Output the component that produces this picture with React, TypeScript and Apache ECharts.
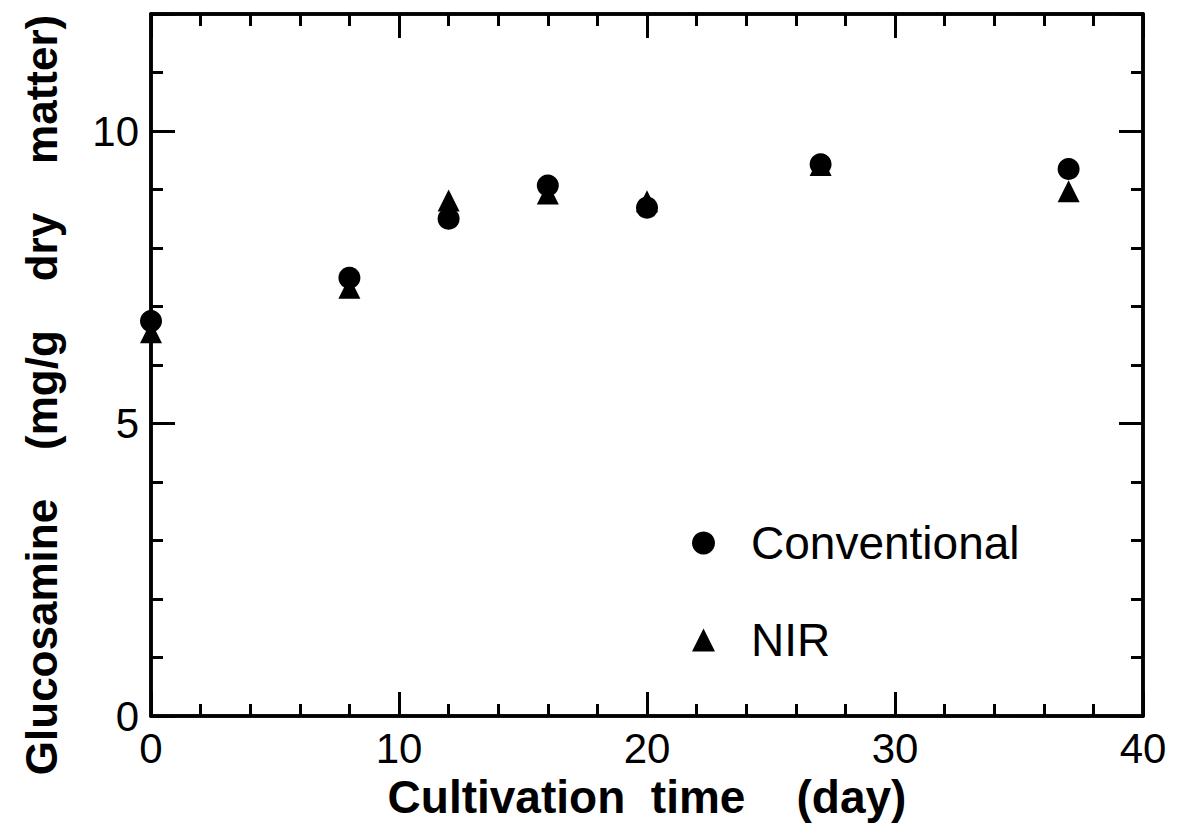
import React, { useEffect, useRef } from "react";
import * as echarts from "echarts";

const days = [0, 8, 12, 16, 20, 27, 37];
const conventional = [6.75, 7.49, 8.5, 9.07, 8.69, 9.43, 9.35];
const nir = [6.56, 7.32, 8.81, 8.93, 8.8, 9.42, 8.97];
const xTickLabels = [0, 10, 20, 30, 40];
const yTickLabels = [0, 5, 10];
const seriesNames = ["Conventional", "NIR"];

const FONT = "'Liberation Sans', Arial, Helvetica, sans-serif";
const BLACK = "#000";

function xAxisDef(position: string, interval: number, len: number, withLabels: boolean) {
  return {
    type: "value",
    position,
    min: 0,
    max: 40,
    interval,
    axisLine: { show: true, onZero: false, lineStyle: { color: BLACK, width: 3.5 } },
    axisTick: { show: true, inside: true, length: len, lineStyle: { color: BLACK, width: 3 } },
    axisLabel: withLabels
      ? {
          show: true,
          color: BLACK,
          fontSize: 42,
          fontFamily: FONT,
          margin: 11,
          formatter: (v: number) => (xTickLabels.includes(v) ? String(v) : ""),
        }
      : { show: false },
    splitLine: { show: false },
    ...(withLabels
      ? {
          name: "Cultivation  time    (day)",
          nameLocation: "middle",
          nameGap: 47,
          nameTextStyle: { color: BLACK, fontSize: 46, fontWeight: "bold", fontFamily: FONT },
        }
      : {}),
  };
}

function yAxisDef(position: string, interval: number, len: number, withLabels: boolean) {
  return {
    type: "value",
    position,
    min: 0,
    max: 12,
    interval,
    axisLine: { show: true, onZero: false, lineStyle: { color: BLACK, width: 3.5 } },
    axisTick: { show: true, inside: true, length: len, lineStyle: { color: BLACK, width: 3 } },
    axisLabel: withLabels
      ? {
          show: true,
          color: BLACK,
          fontSize: 42,
          fontFamily: FONT,
          margin: 12,
          formatter: (v: number) => (yTickLabels.includes(v) ? String(v) : ""),
        }
      : { show: false },
    splitLine: { show: false },
  };
}

export default function App() {
  const ref = useRef<HTMLDivElement>(null);
  useEffect(() => {
    if (!ref.current) return;
    const chart = echarts.init(ref.current, undefined, { renderer: "svg" });
    chart.setOption({
      animation: false,
      backgroundColor: "#fff",
      grid: { left: 151, right: 34, top: 14, bottom: 112, containLabel: false },
      xAxis: [
        xAxisDef("bottom", 10, 24, true),
        xAxisDef("bottom", 2, 12, false),
        xAxisDef("top", 10, 24, false),
        xAxisDef("top", 2, 12, false),
      ],
      yAxis: [
        yAxisDef("left", 5, 24, true),
        yAxisDef("left", 1, 12, false),
        yAxisDef("right", 5, 24, false),
        yAxisDef("right", 1, 12, false),
      ],
      legend: {
        orient: "vertical",
        left: 687,
        top: 515,
        itemWidth: 23,
        itemHeight: 23,
        itemGap: 51,
        data: [
          { name: seriesNames[0], icon: "circle" },
          { name: seriesNames[1], icon: "triangle" },
        ],
        textStyle: {
          color: BLACK,
          fontSize: 46,
          fontFamily: FONT,
          padding: [0, 0, 0, 31],
        },
        selectedMode: false,
      },
      graphic: [
        {
          type: "text",
          x: 41,
          y: 395,
          rotation: Math.PI / 2,
          style: {
            text: "Glucosamine    (mg/g    dry    matter)",
            fontSize: 44,
            fontWeight: "bold",
            fontFamily: FONT,
            fill: BLACK,
            align: "center",
            verticalAlign: "middle",
          },
        },
      ],
      series: [
        {
          name: seriesNames[0],
          type: "scatter",
          xAxisIndex: 0,
          yAxisIndex: 0,
          symbol: "circle",
          symbolSize: 22,
          itemStyle: { color: BLACK, opacity: 1 },
          data: days.map((d, i) => [d, conventional[i]]),
          z: 3,
        },
        {
          name: seriesNames[1],
          type: "scatter",
          xAxisIndex: 0,
          yAxisIndex: 0,
          symbol: "triangle",
          symbolSize: 22,
          itemStyle: { color: BLACK, opacity: 1 },
          data: days.map((d, i) => [d, nir[i]]),
          z: 2,
        },
      ],
    });
    return () => chart.dispose();
  }, []);
  return (
    <div
      ref={ref}
      style={{ position: "fixed", left: 0, top: 0, width: 1177, height: 828, background: "#fff" }}
    />
  );
}
